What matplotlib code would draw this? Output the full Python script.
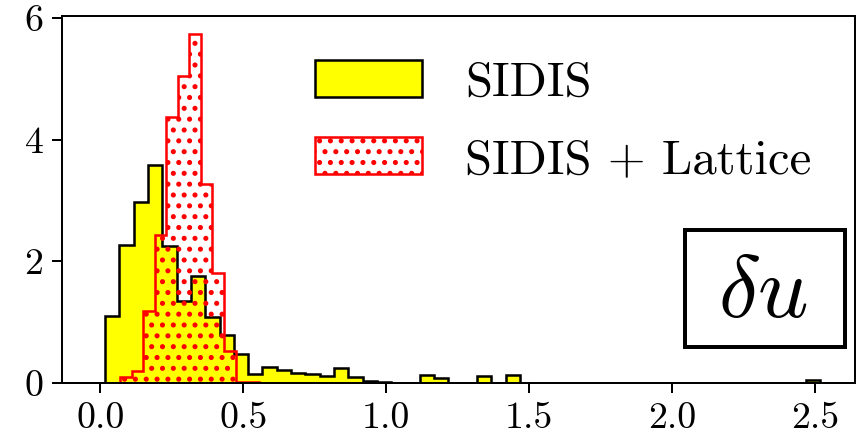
import numpy as np
import matplotlib
matplotlib.use("Agg")
import matplotlib.pyplot as plt
from matplotlib.patches import Rectangle

plt.rcParams["font.family"] = "serif"
plt.rcParams["font.serif"] = ["cmr10"]
plt.rcParams["mathtext.fontset"] = "cm"
plt.rcParams["axes.unicode_minus"] = False
plt.rcParams["axes.formatter.use_mathtext"] = True
plt.rcParams["hatch.linewidth"] = 1.6

# SIDIS: bin width 0.05, starting at 0.017
sidis_edges = 0.017 + 0.05 * np.arange(51)
sidis_heights = [
    1.107, 2.26, 2.97, 3.59, 2.25, 1.35, 1.76, 1.08, 0.79, 0.47,
    0.14, 0.26, 0.22, 0.17, 0.14, 0.115, 0.25, 0.10, 0.033, 0.01,
    0, 0, 0.126, 0.088, 0, 0, 0.115, 0, 0.126, 0,
    0, 0, 0, 0, 0, 0, 0, 0, 0, 0,
    0, 0, 0, 0, 0, 0, 0, 0, 0, 0.044,
]

# SIDIS + Lattice: bin width 0.0404, starting at -0.0118
lattice_edges = -0.0118 + 0.0404 * np.arange(15)
lattice_heights = [0, 0, 0.10, 0.19, 1.19, 2.43, 4.37, 5.04, 5.74, 3.27,
                   1.81, 0.53, 0.02, 0.02]

x_ticks = [0.0, 0.5, 1.0, 1.5, 2.0, 2.5]
y_ticks = [0, 2, 4, 6]

fig = plt.figure(figsize=(859 / 130, 441 / 130), dpi=130)
ax = fig.add_axes([62 / 859, 58 / 441, 793 / 859, 367 / 441])

ax.stairs(sidis_heights, sidis_edges, fill=True, facecolor="yellow",
          edgecolor="black", linewidth=1.4, label="SIDIS")
ax.stairs(lattice_heights, lattice_edges, fill=True, facecolor="none",
          edgecolor="red", hatch="..", linewidth=1.4, label="SIDIS + Lattice")

ax.set_xlim(-0.134, 2.639)
ax.set_ylim(0, 6.03)
ax.set_xticks(x_ticks)
ax.set_xticklabels(["%.1f" % t for t in x_ticks])
ax.set_yticks(y_ticks)
ax.set_yticklabels([str(t) for t in y_ticks])
ax.tick_params(labelsize=21, length=5.3, width=1.1, pad=5)
for s in ax.spines.values():
    s.set_linewidth(1.1)

ax.legend(loc="upper right", frameon=False, fontsize=27,
          handlelength=2.2, handleheight=0.8, handletextpad=0.88,
          labelspacing=0.65)

# label box
ax.add_patch(Rectangle((0.7856, 0.098), 0.2018, 0.319, transform=ax.transAxes,
                       facecolor="white", edgecolor="black", linewidth=2.2,
                       zorder=5))
ax.text(0.884, 0.18, r"$\delta u$", transform=ax.transAxes, fontsize=49,
        ha="center", va="baseline", zorder=6)

fig.savefig("out.png", dpi=130)
